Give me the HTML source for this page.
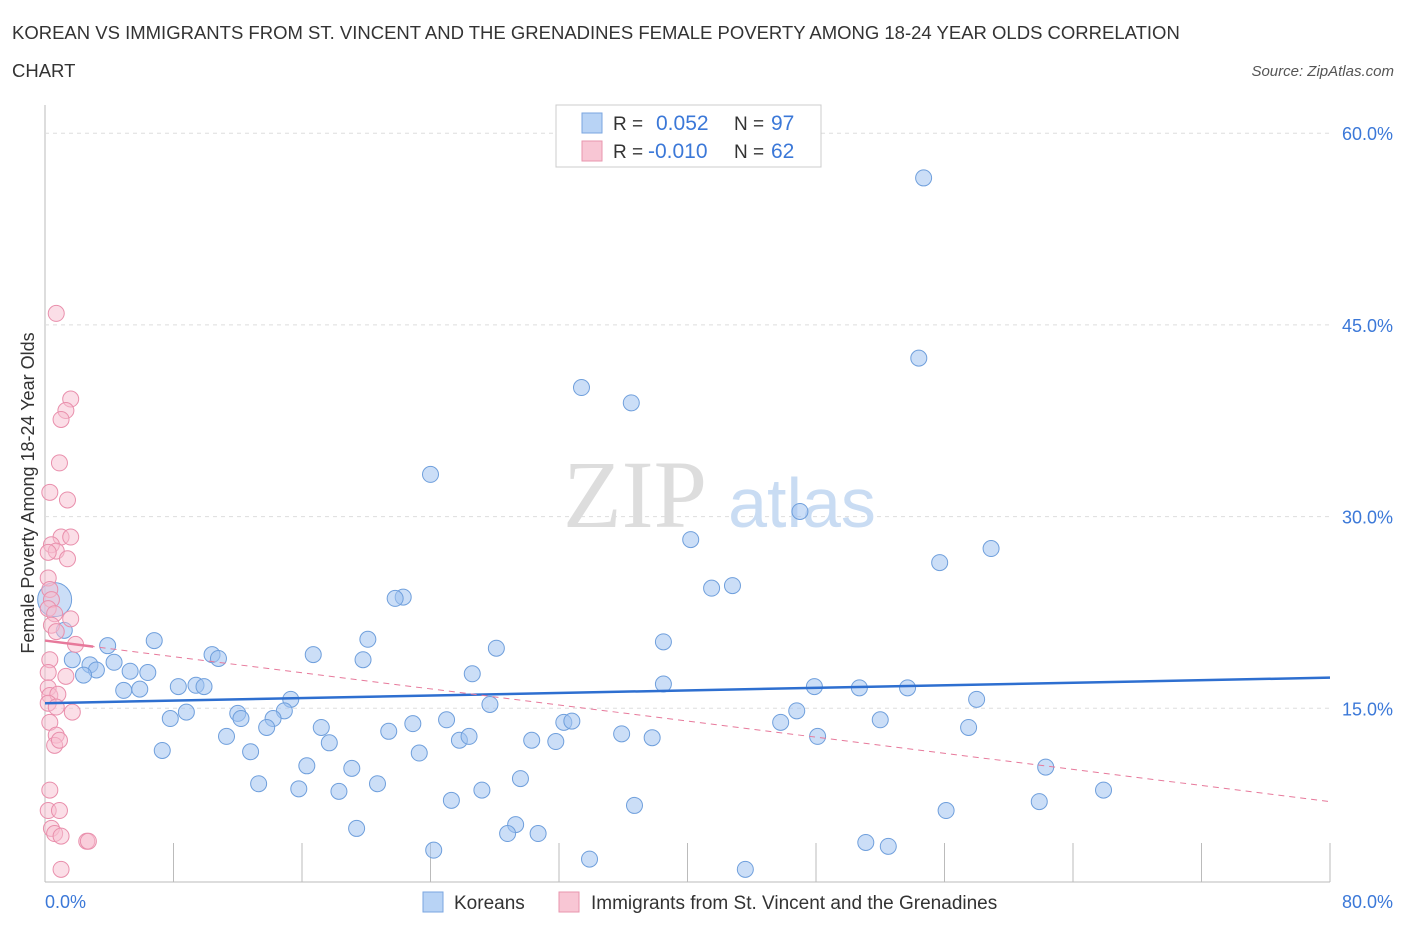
<!DOCTYPE html>
<html><head><meta charset="utf-8"><style>
body{margin:0;background:#fff;font-family:"Liberation Sans",sans-serif;}
</style></head><body>
<svg width="1406" height="930" xmlns="http://www.w3.org/2000/svg" font-family="Liberation Sans, sans-serif">
<text x="12" y="39" font-size="18.5" fill="#333">KOREAN VS IMMIGRANTS FROM ST. VINCENT AND THE GRENADINES FEMALE POVERTY AMONG 18-24 YEAR OLDS CORRELATION</text>
<text x="12" y="77" font-size="18.5" fill="#333">CHART</text>
<text x="1394" y="76" font-size="15" fill="#555" font-style="italic" text-anchor="end">Source: ZipAtlas.com</text>
<g id="grid"></g>
<text x="635" y="527" font-size="96" fill="#ddd" font-family="Liberation Serif, serif" text-anchor="middle">ZIP</text>
<text x="802" y="527" font-size="70" fill="#c9dcf3" text-anchor="middle">atlas</text>
<g id="marks"></g>
<text x="34" y="493" font-size="18" fill="#333" text-anchor="middle" transform="rotate(-90 34 493)">Female Poverty Among 18-24 Year Olds</text>
<text x="45" y="908" font-size="18" fill="#3b78d8">0.0%</text>
<text x="1393" y="908" font-size="18" fill="#3b78d8" text-anchor="end">80.0%</text>
<g>
<rect x="556" y="105" width="265" height="62" fill="#fff" stroke="#ccc"/>
<rect x="582" y="113" width="20" height="20" fill="#b8d3f5" stroke="#7aa6e0"/>
<text x="613" y="130" font-size="19" fill="#333">R = </text><text x="656" y="130" font-size="21" fill="#3b78d8">0.052</text>
<text x="734" y="130" font-size="19" fill="#333">N = </text><text x="771" y="130" font-size="21" fill="#3b78d8">97</text>
<rect x="582" y="141" width="20" height="20" fill="#f8c6d4" stroke="#e896ae"/>
<text x="613" y="158" font-size="19" fill="#333">R = </text><text x="648" y="158" font-size="21" fill="#3b78d8">-0.010</text>
<text x="734" y="158" font-size="19" fill="#333">N = </text><text x="771" y="158" font-size="21" fill="#3b78d8">62</text>
</g>
<g>
<rect x="423" y="892" width="20" height="20" fill="#b8d3f5" stroke="#7aa6e0"/>
<text x="454" y="909" font-size="19" fill="#333">Koreans</text>
<rect x="559" y="892" width="20" height="20" fill="#f8c6d4" stroke="#e896ae"/>
<text x="591" y="909" font-size="19" fill="#333">Immigrants from St. Vincent and the Grenadines</text>
</g>
</svg>
<script>
const yTicks=[15,30,45,60];
const xTicks=[0,8,16,24,32,40,48,56,64,72,80];
const koreanX=[54.7,54.4,33.4,36.5,24.0,47.0,40.2,58.9,55.7,41.5,42.8,22.3,21.8,1.2,6.8,3.9,20.1,38.5,28.1,10.4,10.8,16.7,1.7,4.3,2.8,3.2,5.3,6.4,2.4,19.8,26.6,38.5,8.3,9.4,9.9,4.9,5.9,15.3,14.9,8.8,7.8,12.0,12.2,27.7,47.9,50.7,53.7,58.0,46.8,52.0,14.2,13.8,17.2,22.9,25.0,21.4,32.3,32.8,45.8,57.5,11.3,17.7,25.8,26.4,30.3,31.8,35.9,37.8,48.1,7.3,12.8,23.3,16.3,19.1,62.3,29.6,13.3,20.7,15.8,18.3,27.2,65.9,25.3,36.7,61.9,56.1,19.4,29.3,28.8,30.7,51.1,52.5,24.2,33.9,43.6];
const koreanY=[56.5,42.4,40.1,38.9,33.3,30.4,28.2,27.5,26.4,24.4,24.6,23.7,23.6,21.1,20.3,19.9,20.4,20.2,19.7,19.2,18.9,19.2,18.8,18.6,18.4,18.0,17.9,17.8,17.6,18.8,17.7,16.9,16.7,16.8,16.7,16.4,16.5,15.7,14.8,14.7,14.2,14.6,14.2,15.3,16.7,16.6,16.6,15.7,14.8,14.1,14.2,13.5,13.5,13.8,14.1,13.2,13.9,14.0,13.9,13.5,12.8,12.3,12.5,12.8,12.5,12.4,13.0,12.7,12.8,11.7,11.6,11.5,10.5,10.3,10.4,9.5,9.1,9.1,8.7,8.5,8.6,8.6,7.8,7.4,7.7,7.0,5.6,5.9,5.2,5.2,4.5,4.2,3.9,3.2,2.4];
const vincentX=[0.7,1.6,1.3,1.0,0.9,0.3,1.4,1.0,1.6,0.4,0.7,0.2,1.4,0.2,0.3,0.4,0.2,0.6,1.6,0.4,0.7,1.9,0.3,0.2,1.3,0.2,0.3,0.8,0.2,0.7,1.7,0.3,0.7,0.6,0.9,0.3,0.2,0.9,0.4,0.6,1.0,2.6,2.7,1.0];
const vincentY=[45.9,39.2,38.3,37.6,34.2,31.9,31.3,28.4,28.4,27.8,27.3,27.2,26.7,25.2,24.3,23.5,22.8,22.4,22.0,21.5,21.0,20.0,18.8,17.8,17.5,16.6,16.0,16.1,15.4,15.1,14.7,13.9,12.9,12.1,12.5,8.6,7.0,7.0,5.6,5.2,5.0,4.6,4.6,2.4];
const koreanTrend=[15.4,17.4];
const vincentTrend=[20.3,7.7];
const X=v=>45+v/80*1285;
const Y=v=>900-v/15*191.7;
const NS='http://www.w3.org/2000/svg';
const grid=document.getElementById('grid'),marks=document.getElementById('marks');
function mk(tag,a,p){const e=document.createElementNS(NS,tag);for(const k in a)e.setAttribute(k,a[k]);p.appendChild(e);return e;}
let l=mk('line',{x1:45,x2:45,y1:105,y2:882,stroke:'#bbb'},grid);


l=mk('line',{x1:45,x2:1330,y1:882,y2:882,stroke:'#bbb'},grid);


yTicks.forEach(t=>{
 const g=mk('line',{x1:45,x2:1330,y1:Y(t),y2:Y(t),stroke:'#ddd','stroke-dasharray':'4 4'},grid);
 
 
 const tx=mk('text',{x:1393,y:Y(t)+7,'font-size':18,fill:'#3b78d8','text-anchor':'end'},grid);
 tx.textContent=t.toFixed(1)+'%';
 
 
});
xTicks.forEach(t=>{
 const g=mk('line',{x1:X(t),x2:X(t),y1:843,y2:882,stroke:'#bbb'},grid);
 
 
});
koreanX.forEach((v,i)=>{
 const c=mk('circle',{cx:X(v),cy:Y(koreanY[i]),r:8,fill:'rgba(160,195,240,0.55)',stroke:'#6f9fdc','stroke-width':1},marks);
 
 
});
let big=mk('circle',{cx:X(0.6),cy:Y(23.5),r:17,fill:'rgba(160,195,240,0.55)',stroke:'#6f9fdc'},marks);


vincentX.forEach((v,i)=>{
 const c=mk('circle',{cx:X(v),cy:Y(vincentY[i]),r:8,fill:'rgba(248,190,208,0.5)',stroke:'#e98fac','stroke-width':1},marks);
 
 
});
let t1=mk('line',{x1:X(0),x2:X(80),y1:Y(koreanTrend[0]),y2:Y(koreanTrend[1]),stroke:'#2e6fd0','stroke-width':2.5},marks);


const vy=x=>vincentTrend[0]+(vincentTrend[1]-vincentTrend[0])*x/80;
let t2=mk('line',{x1:X(0),x2:X(80),y1:Y(vy(0)),y2:Y(vy(80)),stroke:'#e7799b','stroke-width':1,'stroke-dasharray':'6 5'},marks);


let t3=mk('line',{x1:X(0),x2:X(3),y1:Y(vy(0)),y2:Y(vy(3)),stroke:'#e7799b','stroke-width':2.5},marks);


</script>
</body></html>
